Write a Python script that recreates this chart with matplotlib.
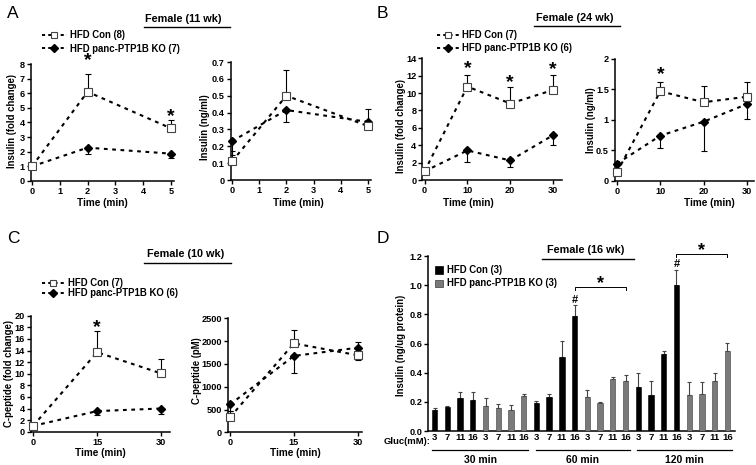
import matplotlib
matplotlib.use("Agg")
import matplotlib.pyplot as plt
from matplotlib.lines import Line2D
from matplotlib.patches import Rectangle
import numpy as np

plt.rcParams['font.family'] = ['Liberation Sans', 'DejaVu Sans']
plt.rcParams['font.weight'] = 'bold'
plt.rcParams['axes.linewidth'] = 1.1

W, H = 756, 465

# ---------------- data ----------------
A_t = [0, 2, 5]
A_fold_con = [1.0, 6.1, 3.6]
A_fold_con_up = [0, 1.25, 0.58]
A_fold_ko = [1.0, 2.28, 1.87]
A_fold_ko_dn = [0, 0.45, 0.33]
A_ng_con = [0.11, 0.50, 0.32]
A_ng_con_up = [0.06, 0.15, 0]
A_ng_con_dn = [0, 0, 0.02]
A_ng_ko = [0.23, 0.415, 0.345]
A_ng_ko_up = [0, 0, 0.075]
A_ng_ko_dn = [0.08, 0.07, 0]

B_t = [0, 10, 20, 30]
B_fold_con = [1.0, 10.75, 8.8, 10.35]
B_fold_con_up = [0, 1.35, 1.9, 1.75]
B_fold_ko = [1.0, 3.4, 2.25, 5.15]
B_fold_ko_dn = [0, 1.3, 0.8, 1.1]
B_ng_con = [0.14, 1.47, 1.29, 1.38]
B_ng_con_up = [0, 0.16, 0.26, 0.24]
B_ng_ko = [0.28, 0.74, 0.97, 1.26]
B_ng_ko_dn = [0, 0.2, 0.49, 0.25]

C_t = [0, 15, 30]
C_fold_con = [1.0, 13.7, 10.05]
C_fold_con_up = [0, 3.65, 2.4]
C_fold_ko = [1.0, 3.55, 4.0]
C_fold_ko_dn = [0, 0.7, 1.0]
C_pm_con = [330, 1950, 1690]
C_pm_con_up = [130, 300, 0]
C_pm_con_dn = [0, 0, 100]
C_pm_ko = [610, 1675, 1855]
C_pm_ko_up = [0, 0, 135]
C_pm_ko_dn = [140, 380, 0]

D_gluc = ['3', '7', '11', '16']
D_times = ['30 min', '60 min', '120 min']
D_con = [[0.145, 0.165, 0.225, 0.215], [0.195, 0.235, 0.505, 0.79], [0.305, 0.25, 0.525, 1.0]]
D_con_err = [[0.012, 0.006, 0.04, 0.05], [0.008, 0.02, 0.115, 0.075], [0.09, 0.092, 0.023, 0.105]]
D_ko = [[0.17, 0.155, 0.147, 0.24], [0.235, 0.19, 0.355, 0.345], [0.25, 0.255, 0.345, 0.55]]
D_ko_err = [[0.055, 0.03, 0.032, 0.012], [0.045, 0.006, 0.014, 0.042], [0.085, 0.083, 0.052, 0.053]]

fig = plt.figure(figsize=(W / 100, H / 100), dpi=100)


def px_axes(x0, y0, x1, y1):
    return fig.add_axes([x0 / W, 1 - y1 / H, (x1 - x0) / W, (y1 - y0) / H])


def style(ax):
    for s in ['top', 'right']:
        ax.spines[s].set_visible(False)
    ax.tick_params(direction='out', length=3, width=1, labelsize=6.6, pad=1.3)
    for lab in ax.get_xticklabels() + ax.get_yticklabels():
        lab.set_fontweight('bold')


LS = (0, (1.8, 2.2))
LW = 1.5


def errs(ax, t, y, up, dn):
    t = np.asarray(t, float); y = np.asarray(y, float)
    up = np.asarray(up, float); dn = np.asarray(dn, float)
    m = up > 0
    if m.any():
        ax.errorbar(t[m], y[m], yerr=[np.zeros(m.sum()), up[m]], fmt='none',
                    ecolor='black', elinewidth=0.8, capsize=2.2, capthick=0.8, zorder=2)
    m = dn > 0
    if m.any():
        ax.errorbar(t[m], y[m], yerr=[dn[m], np.zeros(m.sum())], fmt='none',
                    ecolor='black', elinewidth=0.8, capsize=2.2, capthick=0.8, zorder=2)


def series(ax, t, con, con_up, con_dn, ko, ko_up, ko_dn):
    ax.plot(t, ko, linestyle=LS, lw=LW, color='black', zorder=3, clip_on=False)
    ax.plot(t, con, linestyle=LS, lw=LW, color='black', zorder=3, clip_on=False)
    errs(ax, t, con, con_up, con_dn)
    errs(ax, t, ko, ko_up, ko_dn)
    ax.plot(t, ko, linestyle='none', marker='D', ms=4.5, mfc='black', mec='black',
            zorder=5, clip_on=False)
    ax.plot(t, con, linestyle='none', marker='s', ms=5.2, mfc='white', mec='#444444',
            mew=0.8, zorder=6, clip_on=False)


def star(ax, x, y, s='*', size=14):
    ax.text(x, y, s, ha='center', va='center', fontsize=size, fontweight='bold',
            clip_on=False)


Z = [0] * 4

# ---------------- Panel A ----------------
ax = px_axes(30.6, 64, 173.8, 181)
series(ax, A_t, A_fold_con, A_fold_con_up, Z, A_fold_ko, Z, A_fold_ko_dn)
ax.set_xlim(-0.05, 5.1); ax.set_ylim(0, 8)
ax.set_xticks(range(6)); ax.set_yticks(range(9))
style(ax)
star(ax, 2, 8.2); star(ax, 5, 4.4)

ax = px_axes(230.6, 62, 370.7, 180)
series(ax, A_t, A_ng_con, A_ng_con_up, A_ng_con_dn, A_ng_ko, A_ng_ko_up, A_ng_ko_dn)
ax.set_xlim(-0.05, 5.1); ax.set_ylim(0, 0.7)
ax.set_xticks(range(6)); ax.set_yticks(np.arange(0, 0.71, 0.1))
ax.set_yticklabels(['0', '0.1', '0.2', '0.3', '0.4', '0.5', '0.6', '0.7'])
style(ax)

# ---------------- Panel B ----------------
ax = px_axes(422.4, 58.3, 561.6, 180)
series(ax, B_t, B_fold_con, B_fold_con_up, Z, B_fold_ko, Z, B_fold_ko_dn)
ax.set_xlim(-0.5, 32); ax.set_ylim(0, 14)
ax.set_xticks([0, 10, 20, 30]); ax.set_yticks(range(0, 15, 2))
style(ax)
star(ax, 10, 12.85); star(ax, 20, 11.25); star(ax, 30, 12.7)

ax = px_axes(614.8, 59, 753.5, 180.7)
series(ax, B_t, B_ng_con, B_ng_con_up, Z, B_ng_ko, Z, B_ng_ko_dn)
ax.set_xlim(-0.5, 31.5); ax.set_ylim(0, 2)
ax.set_xticks([0, 10, 20, 30]); ax.set_yticks([0, 0.5, 1, 1.5, 2])
ax.set_yticklabels(['0', '0.5', '1', '1.5', '2'])
style(ax)
star(ax, 10, 1.74)

# ---------------- Panel C ----------------
ax = px_axes(30.9, 315.7, 169.6, 431.7)
series(ax, C_t, C_fold_con, C_fold_con_up, Z, C_fold_ko, Z, C_fold_ko_dn)
ax.set_xlim(-0.5, 32); ax.set_ylim(0, 20)
ax.set_xticks([0, 15, 30]); ax.set_yticks(range(0, 21, 2))
style(ax)
star(ax, 15, 18.0)

ax = px_axes(227.9, 318.3, 362, 432.3)
series(ax, C_t, C_pm_con, C_pm_con_up, C_pm_con_dn, C_pm_ko, C_pm_ko_up, C_pm_ko_dn)
ax.set_xlim(-0.5, 31); ax.set_ylim(0, 2500)
ax.set_xticks([0, 15, 30]); ax.set_yticks(range(0, 2501, 500))
style(ax)

# ---------------- Panel D ----------------
ax = px_axes(428, 256, 735, 431)
ax.set_xlim(-0.52, 23.6); ax.set_ylim(0, 1.2)
xpos = 0
centers = []
for g in range(3):
    for i in range(4):
        ax.bar(xpos, D_con[g][i], width=0.42, color='black', edgecolor='black', lw=0.4, zorder=3)
        ax.errorbar(xpos, D_con[g][i], yerr=[[0], [D_con_err[g][i]]], fmt='none',
                    ecolor='#444444', elinewidth=0.8, capsize=1.6, capthick=0.8, zorder=2)
        centers.append(xpos); xpos += 1
    for i in range(4):
        ax.bar(xpos, D_ko[g][i], width=0.42, color='#7a7a7a', edgecolor='#3a3a3a', lw=0.4, zorder=3)
        ax.errorbar(xpos, D_ko[g][i], yerr=[[0], [D_ko_err[g][i]]], fmt='none',
                    ecolor='#444444', elinewidth=0.8, capsize=1.6, capthick=0.8, zorder=2)
        centers.append(xpos); xpos += 1
ax.set_yticks(np.arange(0, 1.21, 0.2))
ax.set_yticklabels(['%.1f' % v for v in np.arange(0, 1.21, 0.2)])
ax.set_xticks([])
style(ax)
ax.tick_params(axis='x', length=0)
for k, c in enumerate(centers):
    ax.text(c, -0.042, D_gluc[k % 4], ha='center', va='center', fontsize=6.8,
            fontweight='bold', clip_on=False)
# significance markers
for g, (y_hash, y_br) in zip([1, 2], [(0.9, 0.99), (1.145, 1.215)]):
    ic = g * 8 + 3
    ik = g * 8 + 7
    ax.text(ic, y_hash, '#', ha='center', va='center', fontsize=8, fontweight='bold', clip_on=False)
    ax.plot([ic, ic, ik, ik], [y_br - 0.022, y_br, y_br, y_br - 0.022], color='black',
            lw=0.7, clip_on=False)
    star(ax, (ic + ik) / 2, y_br + 0.02, size=13)

# ---------------- overlay: labels, legends, titles ----------------
ov = fig.add_axes([0, 0, 1, 1], zorder=10)
ov.set_xlim(0, W); ov.set_ylim(H, 0); ov.axis('off'); ov.patch.set_alpha(0)

for s, x, y in [('A', 7, 13), ('B', 377, 13), ('C', 7, 238), ('D', 377, 238)]:
    ov.text(x, y, s, fontsize=12.5, fontweight='normal', ha='left', va='center')

for txt, cx, y, x0, x1, ly in [('Female (11 wk)', 183, 18.5, 144, 230, 27),
                               ('Female (24 wk)', 575, 18, 534, 620, 26.5),
                               ('Female (10 wk)', 186, 254, 144, 231, 263),
                               ('Female (16 wk)', 586, 250, 542, 634, 259)]:
    ov.text(cx, y, txt, fontsize=7.8, fontweight='bold', ha='center', va='center')
    ov.plot([x0, x1], [ly, ly], color='black', lw=1.0)

ylabs = [('Insulin (fold change)', 12, 121), ('Insulin (ng/ml)', 205, 127),
         ('Insulin (fold change)', 400.5, 126), ('Insulin (ng/ml)', 590.5, 120),
         ('C-peptide (fold change)', 9.5, 373.5), ('C-peptide (pM)', 197, 371),
         ('Insulin (ng/ug protein)', 400.5, 345.5)]
for txt, x, y in ylabs:
    ov.text(x, y, txt, rotation=90, fontsize=6.9, fontweight='bold', ha='center', va='center')
for x, y in [(102, 203), (298.7, 203), (468.8, 203), (709.5, 203), (100, 452.7), (295, 453)]:
    ov.text(x, y, 'Time (min)', fontsize=7.2, fontweight='bold', ha='center', va='center')


def leg(x0, x1, y1, y2, tx, n1, n2):
    for yy, lab, mk in [(y1, 'HFD Con (%d)' % n1, 's'), (y2, 'HFD panc-PTP1B KO (%d)' % n2, 'D')]:
        ov.add_line(Line2D([x0, x1], [yy, yy], linestyle=(0, (1.6, 1.6)), lw=1.4, color='black'))
        if mk == 's':
            ov.plot([(x0 + x1) / 2], [yy], marker='s', ms=5, mfc='white', mec='#444444', mew=0.8)
        else:
            ov.plot([(x0 + x1) / 2], [yy], marker='D', ms=4.5, mfc='black', mec='black')
        ov.text(tx, yy, lab, fontsize=6.9, fontweight='bold', ha='left', va='center')


leg(42, 66.5, 35.5, 48.5, 70, 8, 7)
leg(436.5, 460, 35, 48, 462.5, 7, 6)
leg(41.5, 65, 282.7, 292.7, 67.7, 7, 6)

# D legend
ov.add_patch(Rectangle((434.5, 266), 8, 7.5, facecolor='black', edgecolor='black', lw=0.5))
ov.add_patch(Rectangle((434.5, 279.5), 8, 7.5, facecolor='#7a7a7a', edgecolor='#3a3a3a', lw=0.5))
ov.text(447, 270, 'HFD Con (3)', fontsize=6.9, fontweight='bold', ha='left', va='center')
ov.text(447, 283.3, 'HFD panc-PTP1B KO (3)', fontsize=6.9, fontweight='bold', ha='left', va='center')

# D x-axis annotations
ov.text(430, 441, 'Gluc(mM):', fontsize=6.8, fontweight='bold', ha='right', va='center')
for (x0, x1), lab in zip([(432, 528), (536, 630), (637, 732)], D_times):
    ov.plot([x0, x1], [450, 450], color='black', lw=0.9)
    ov.text((x0 + x1) / 2, 460, lab, fontsize=7.5, fontweight='bold', ha='center', va='center')

fig.savefig('out.png', dpi=100)
